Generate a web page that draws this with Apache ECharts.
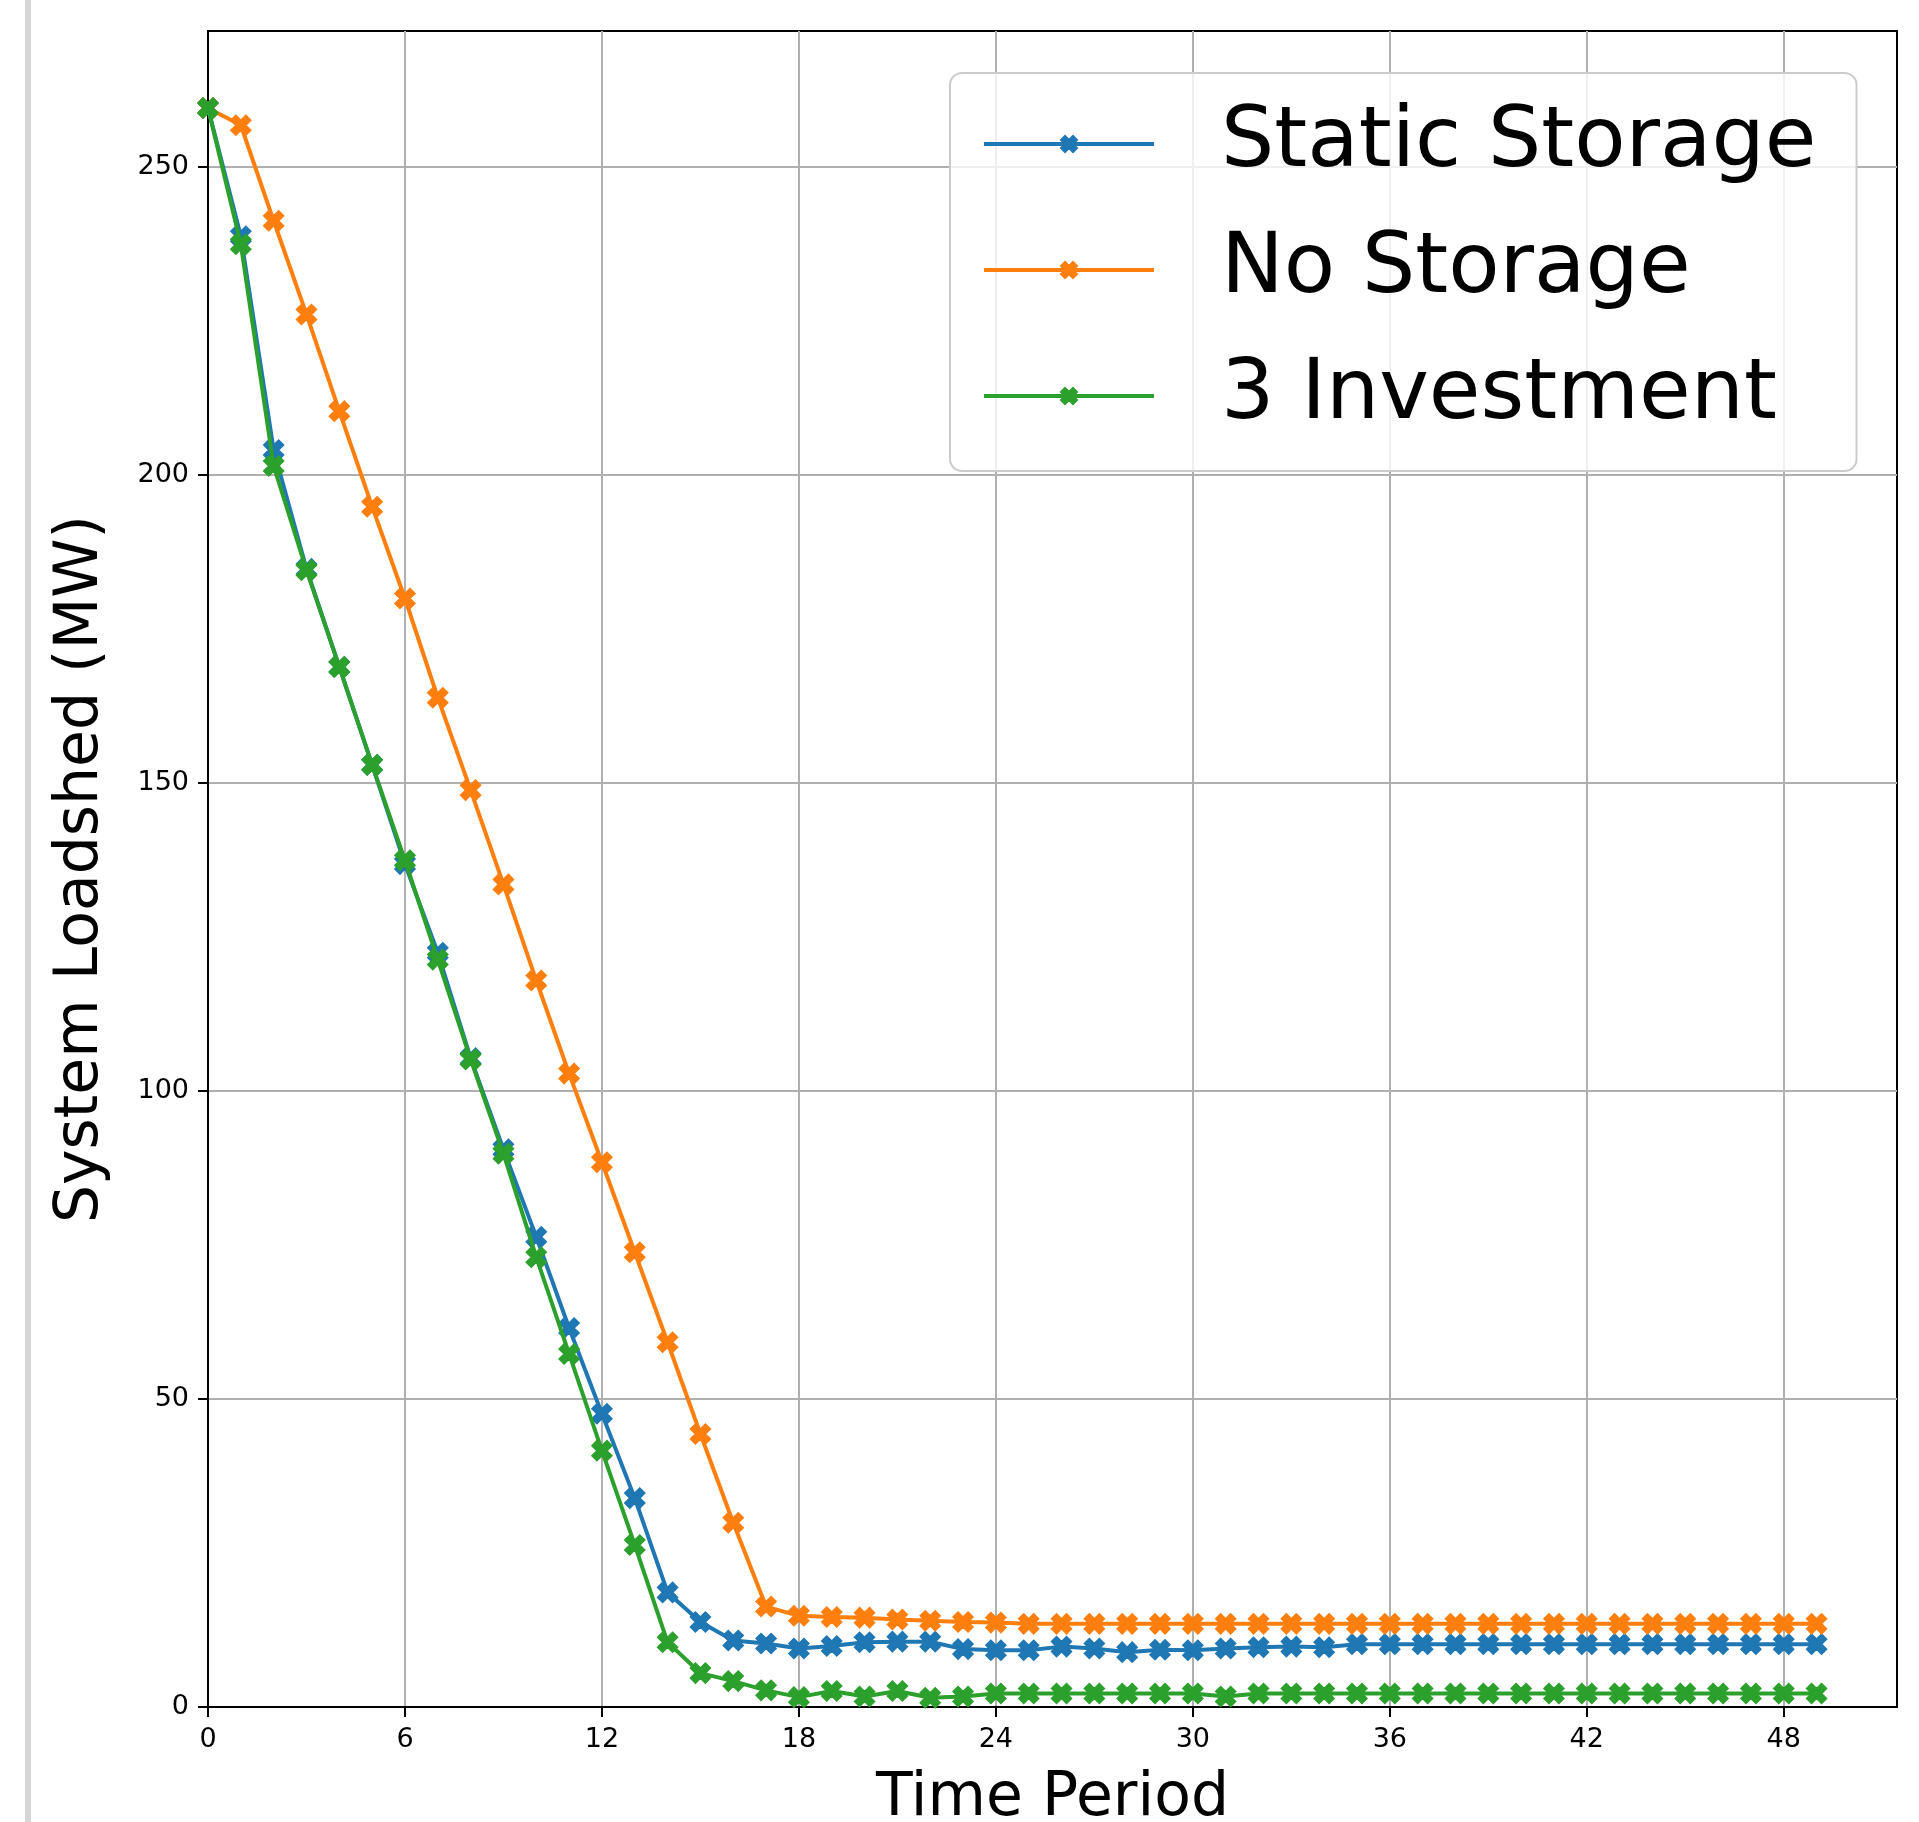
<!DOCTYPE html>
<html>
<head>
<meta charset="utf-8">
<script src="https://cdn.jsdelivr.net/npm/echarts@6/dist/echarts.min.js"></script>
<style>
html,body{margin:0;padding:0;background:#fff;}
#chart{width:1919px;height:1822px;}
</style>
</head>
<body>
<div id="chart"></div>
<script>
// ---- data ----
const periods = [0,1,2,3,4,5,6,7,8,9,10,11,12,13,14,15,16,17,18,19,20,21,22,23,24,25,26,27,28,29,30,31,32,33,34,35,36,37,38,39,40,41,42,43,44,45,46,47,48,49];
const staticStorage = [259.5,238.7,204.0,184.7,168.8,152.9,136.8,122.4,105.3,90.5,76.3,61.5,47.6,33.9,18.6,13.8,10.8,10.3,9.5,9.9,10.5,10.6,10.6,9.4,9.2,9.2,9.8,9.5,8.9,9.3,9.2,9.5,9.7,9.8,9.7,10.2,10.2,10.2,10.2,10.2,10.2,10.2,10.2,10.2,10.2,10.2,10.2,10.2,10.2,10.2];
const noStorage = [259.5,256.7,241.2,226.0,210.3,194.8,179.9,163.8,148.8,133.5,117.9,102.8,88.4,73.8,59.2,44.3,29.9,16.3,14.8,14.6,14.5,14.2,14.0,13.8,13.7,13.5,13.5,13.5,13.5,13.5,13.5,13.5,13.5,13.5,13.5,13.5,13.5,13.5,13.5,13.5,13.5,13.5,13.5,13.5,13.5,13.5,13.5,13.5,13.5,13.5];
const investment3 = [259.5,237.4,201.4,184.5,168.8,152.9,137.4,121.3,105.1,89.8,73.0,57.3,41.6,26.3,10.5,5.5,4.2,2.7,1.6,2.6,1.7,2.6,1.5,1.7,2.2,2.2,2.2,2.2,2.2,2.2,2.2,1.7,2.2,2.2,2.2,2.2,2.2,2.2,2.2,2.2,2.2,2.2,2.2,2.2,2.2,2.2,2.2,2.2,2.2,2.2];
const seriesNames = ['Static Storage','No Storage','3 Investment'];
const seriesColors = ['#1f77b4','#ff7f0e','#2ca02c'];
const xTicks = [0,6,12,18,24,30,36,42,48];
const yTicks = [0,50,100,150,200,250];
const xLabel = 'Time Period';
const yLabel = 'System Loadshed (MW)';

// ---- chart ----
const FONT = 'DejaVu Sans';
const X_MARK = 'path://M3,2 L4,3 L3,4 L2,3 L1,4 L0,3 L1,2 L0,1 L1,0 L2,1 L3,0 L4,1 Z';
const allValues = [staticStorage, noStorage, investment3];

function pairs(vals){ return periods.map((p,i)=>[p, vals[i]]); }

const chart = echarts.init(document.getElementById('chart'), null, {renderer:'canvas'});
chart.setOption({
  animation:false,
  backgroundColor:'#fff',
  textStyle:{fontFamily:FONT},
  graphic:[{type:'rect', shape:{x:25,y:0,width:6,height:1822}, style:{fill:'#d6d6d6'}, silent:true}],
  grid:{left:208, top:31, width:1689, height:1676, outerBoundsMode:'none', containLabel:false,
    show:true, borderColor:'#000', borderWidth:2, backgroundColor:'transparent'},
  legend:{
    orient:'vertical', left:950, top:73,
    padding:[20,40,24,32],
    itemWidth:170, itemHeight:20, itemGap:24,
    lineStyle:{width:4},
    backgroundColor:'rgba(255,255,255,0.8)', borderColor:'#cccccc', borderWidth:2, borderRadius:12,
    formatter:function(n){ return '{p|}{t|'+n+'}'; },
    textStyle:{fontFamily:FONT, fontSize:84, color:'#000', lineHeight:102,
      rich:{p:{width:62}, t:{fontFamily:FONT, fontSize:84, color:'#000', lineHeight:102}}},
    data:seriesNames
  },
  xAxis:{
    type:'value', min:0, max:51.45, interval:6,
    name:xLabel, nameLocation:'middle', nameGap:62,
    nameTextStyle:{fontFamily:FONT, fontSize:60, color:'#000'},
    axisLine:{onZero:false, lineStyle:{color:'#000', width:2}},
    axisTick:{show:true, length:10, customValues:xTicks, lineStyle:{color:'#000', width:2}},
    axisLabel:{fontFamily:FONT, fontSize:27, color:'#000', margin:19, customValues:xTicks},
    splitLine:{show:true, lineStyle:{color:'#b0b0b0', width:2}}
  },
  yAxis:{
    type:'value', min:0, max:272, interval:50,
    name:yLabel, nameLocation:'middle', nameGap:97,
    nameTextStyle:{fontFamily:FONT, fontSize:60, color:'#000'},
    axisLine:{onZero:false, lineStyle:{color:'#000', width:2}},
    axisTick:{show:true, length:10, customValues:yTicks, lineStyle:{color:'#000', width:2}},
    axisLabel:{fontFamily:FONT, fontSize:27, color:'#000', margin:19, customValues:yTicks},
    splitLine:{show:true, lineStyle:{color:'#b0b0b0', width:2}}
  },
  series: seriesNames.map((n,i)=>({
    name:n, type:'line', data:pairs(allValues[i]),
    color:seriesColors[i],
    symbol:X_MARK, symbolSize:20, showSymbol:true, showAllSymbol:true,
    lineStyle:{width:4, color:seriesColors[i]},
    itemStyle:{color:seriesColors[i], borderColor:seriesColors[i], borderWidth:1.5},
    z:2+i
  }))
});
</script>
</body>
</html>
